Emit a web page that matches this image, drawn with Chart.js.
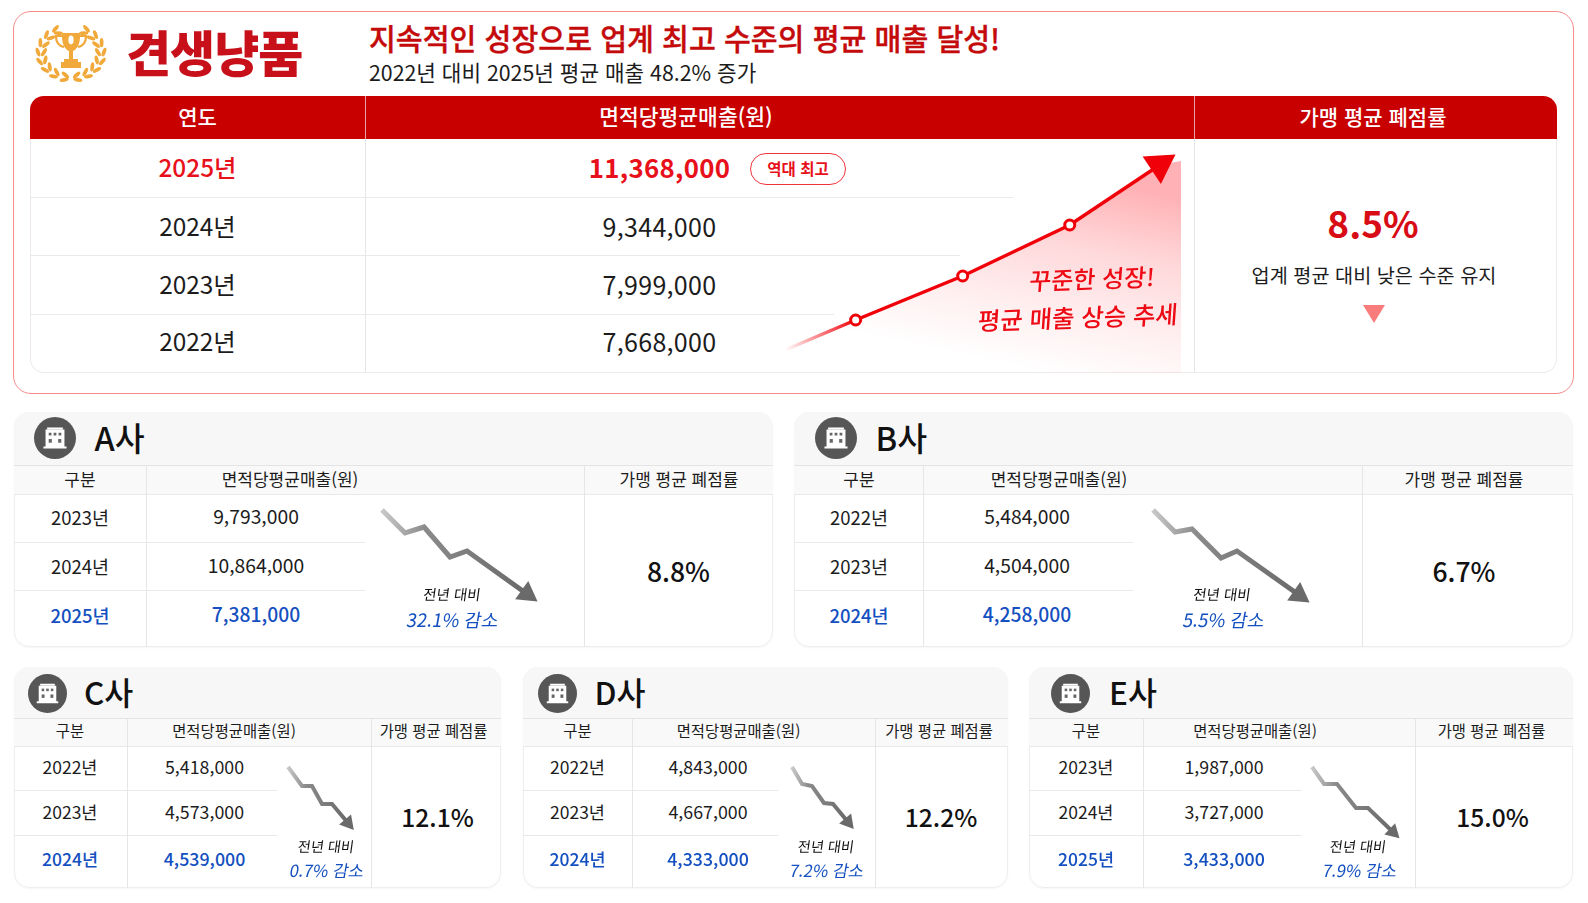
<!DOCTYPE html>
<html lang="ko">
<head>
<meta charset="utf-8">
<title>견생냥품</title>
<script src="https://cdn.jsdelivr.net/npm/chart.js@4/dist/chart.umd.min.js"></script>
<style>
  html, body { margin: 0; padding: 0; background: #fff; }
  body { width: 1588px; height: 903px; overflow: hidden; position: relative;
         font-family: "Noto Sans CJK KR", "Noto Sans", sans-serif; color: #1c1c1c; }
  .t { position: absolute; white-space: nowrap; transform: translate(-50%, -50%); line-height: 1; }
  .l { position: absolute; white-space: nowrap; transform: translateY(-50%); line-height: 1; }
  .box { position: absolute; box-sizing: border-box; }
  .hl { position: absolute; height: 1px; background: #e9e9e9; }
  .vl { position: absolute; width: 1px; background: #e6e6e6; }
  canvas { position: absolute; }
</style>
</head>
<body>
<script>
// main table
const topYears = ["2025년", "2024년", "2023년", "2022년"];
const topSales = ["11,368,000", "9,344,000", "7,999,000", "7,668,000"];
const topRate = "8.5%";

// red growth line (year, height above the table bottom)
const growthX = [2021.34, 2022, 2023, 2024, 2024.84];
const growthY = [23, 53, 97, 148, 208];
const growthFillX = [2021.34, 2022, 2023, 2024, 2024.84, 2025.04];
const growthFillY = [23, 53, 97, 148, 208, 212];

// companies
const nameA = "A사", yearsA = ["2023년", "2024년", "2025년"], salesA = ["9,793,000", "10,864,000", "7,381,000"], rateA = "8.8%", dropA = "32.1% 감소";
const nameB = "B사", yearsB = ["2022년", "2023년", "2024년"], salesB = ["5,484,000", "4,504,000", "4,258,000"], rateB = "6.7%", dropB = "5.5% 감소";
const nameC = "C사", yearsC = ["2022년", "2023년", "2024년"], salesC = ["5,418,000", "4,573,000", "4,539,000"], rateC = "12.1%", dropC = "0.7% 감소";
const nameD = "D사", yearsD = ["2022년", "2023년", "2024년"], salesD = ["4,843,000", "4,667,000", "4,333,000"], rateD = "12.2%", dropD = "7.2% 감소";
const nameE = "E사", yearsE = ["2023년", "2024년", "2025년"], salesE = ["1,987,000", "3,727,000", "3,433,000"], rateE = "15.0%", dropE = "7.9% 감소";

// gray decline arrows
const arrowAX = [12, 35, 54, 80, 97, 157], arrowAY = [105, 82, 88, 58, 64, 21];
const arrowBX = [6, 28, 45, 74, 90, 152], arrowBY = [105, 83, 86, 57, 64, 20];
const arrowCX = [6, 20, 30, 40, 50, 66], arrowCY = [88, 69, 69, 51, 51, 32];
const arrowDX = [7, 17, 27, 39, 48, 63], arrowDY = [88, 71, 69, 52, 51, 33];
const arrowEX = [7, 19, 32, 51, 63, 88], arrowEY = [88, 71, 71, 47, 47, 23];

const body = document.body;
function el(cls, css, text) {
  const d = document.createElement("div");
  d.className = cls;
  d.style.cssText = css;
  if (text !== undefined) d.textContent = text;
  body.appendChild(d);
  return d;
}
// -1.5: the CJK face sits low in its line box
const txt = (s, x, y, size, css = "") => el("t", `left:${x}px;top:${y - 1.5}px;font-size:${size}px;${css}`, s);
const hline = (x1, x2, y, c = "#e9e9e9") => el("hl", `left:${x1}px;width:${x2 - x1}px;top:${y}px;background:${c}`);
const vline = (x, y1, y2, c = "#e6e6e6") => el("vl", `left:${x}px;top:${y1}px;height:${y2 - y1}px;background:${c}`);

// top panel
el("box", "left:13px;top:11px;width:1561px;height:383px;border:1px solid #f88a8a;border-radius:18px");
el("box", "left:30px;top:96px;width:1527px;height:277px;border:1px solid #f0eaea;border-top:none;border-radius:14px");
el("box", "left:30px;top:96px;width:1527px;height:43px;background:#c80000;border-radius:14px 14px 0 0");
vline(365, 96, 139, "#e8a0a0"); vline(1194, 96, 139, "#e8a0a0");
vline(365, 139, 373); vline(1194, 139, 373);

// trophy
(function () {
  let leaves = "";
  const leaf = (x, y, rot) => `<ellipse cx="${x}" cy="${y}" rx="1.9" ry="4.6" fill="#f0a93a" transform="rotate(${rot} ${x} ${y})"/>`;
  for (let a = 118; a <= 258; a += 20) {
    const r = (a * Math.PI) / 180;
    const ox = 35 + 33 * Math.cos(r), oy = 29 - 27.5 * Math.sin(r);
    const ix = 35 + 27 * Math.cos(r), iy = 29 - 22.5 * Math.sin(r);
    const rot = 180 - a;
    leaves += leaf(ox, oy, rot - 22) + leaf(ix, iy, rot + 30);
    leaves += leaf(70 - ox, oy, -rot + 22) + leaf(70 - ix, iy, -rot - 30);
  }
  const d = el("box", "left:36px;top:24px;width:70px;height:58px");
  d.innerHTML = `<svg width="70" height="58" viewBox="0 0 70 58" style="overflow:visible">${leaves}
    <path d="M26 9h18v4c0 8-4 13-7 14v8h5v3h3v6H25v-6h3v-3h5v-8c-3-1-7-6-7-14z" fill="#f0a93a"/>
    <ellipse cx="35" cy="16" rx="2.6" ry="4.4" fill="#fff"/>
    <path d="M26 12h-6c0 7 3 10 8 11M44 12h6c0 7-3 10-8 11" fill="none" stroke="#f0a93a" stroke-width="2.2"/></svg>`;
})();
el("l", "left:126px;top:50px;font-size:49px;font-weight:900;color:#c8101a;letter-spacing:-1px", "견생냥품");
el("l", "left:369px;top:37.5px;font-size:29.2px;font-weight:500;-webkit-text-stroke:.35px #c40a0a;color:#c40a0a", "지속적인 성장으로 업계 최고 수준의 평균 매출 달성!");
el("l", "left:369px;top:72px;font-size:21.3px", "2022년 대비 2025년 평균 매출 48.2% 증가");
txt("연도", 197.5, 117.5, 21, "color:#fff;font-weight:500");
txt("면적당평균매출(원)", 686, 117.5, 21.5, "color:#fff;font-weight:500");
txt("가맹 평균 폐점률", 1373, 117.5, 21, "color:#fff;font-weight:500");

const topRowY = [168.5, 227, 285, 342.5];
const topLineEnd = [1013, 960, 834];
[197, 255, 314].forEach((y, i) => hline(30, topLineEnd[i], y));
topYears.forEach((s, i) => {
  const first = i === 0;
  txt(s, 197.5, topRowY[i], 24.4, first ? "color:#e8101a;font-weight:500" : "");
  txt(topSales[i], 659.5, topRowY[i], first ? 25.8 : 25, first ? "color:#e8101a;font-weight:700;letter-spacing:.3px" : "letter-spacing:.3px");
});
el("box", "left:750px;top:153px;width:96px;height:32px;border:1.5px solid #f0343c;border-radius:16px");
txt("역대 최고", 798, 170, 15.5, "color:#e8101a;font-weight:700");
txt(topRate, 1373, 223.5, 37, "color:#d80c14;font-weight:700");
txt("업계 평균 대비 낮은 수준 유지", 1374, 276, 19.7);
el("box", "left:1363px;top:305px;width:0;height:0;border-left:11px solid transparent;border-right:11px solid transparent;border-top:18px solid #f87c7c");

function addCanvas(left, top, w, h) {
  const c = document.createElement("canvas");
  c.width = w; c.height = h;
  c.style.cssText = `left:${left}px;top:${top}px;width:${w}px;height:${h}px`;
  body.appendChild(c);
  return c;
}
const zip = (xs, ys) => xs.map((x, i) => ({ x, y: ys[i] }));
const hiddenScales = (xmin, xmax, ymin, ymax) => ({
  x: { type: "linear", display: false, min: xmin, max: xmax },
  y: { type: "linear", display: false, min: ymin, max: ymax },
});
const quietPlugins = { legend: { display: false }, tooltip: { enabled: false }, title: { display: false } };

// rotation of the arrow head, from the last segment of a line in screen space
function headRotation(xs, ys, sx = 1) {
  const n = xs.length - 1;
  const dx = (xs[n] - xs[n - 1]) * sx, dy = ys[n] - ys[n - 1];
  return (Math.atan2(dx, dy) * 180) / Math.PI;
}

// big growth chart
new Chart(addCanvas(770, 139, 425, 234), {
  type: "scatter",
  data: {
    datasets: [
      {
        data: zip(growthX, growthY),
        showLine: true,
        clip: false,
        borderWidth: 3.5,
        borderColor: (c) => {
          const { chart } = c;
          if (!chart.chartArea) return "#f00008";
          const sx = chart.scales.x;
          const g = chart.ctx.createLinearGradient(sx.getPixelForValue(growthX[0]), 0, sx.getPixelForValue(growthX[1]), 0);
          g.addColorStop(0, "rgba(240,0,8,0)");
          g.addColorStop(1, "#f00008");
          return g;
        },
        pointStyle: ["circle", "circle", "circle", "circle", "triangle"],
        pointRadius: [0, 5, 5, 5, 19],
        pointBorderWidth: [0, 3, 3, 3, 0],
        pointBorderColor: "#f00008",
        pointBackgroundColor: ["#fff", "#fff", "#fff", "#fff", "#f00008"],
        pointRotation: [0, 0, 0, 0, headRotation(growthX, growthY, 107)],
      },
      {
        data: zip(growthFillX, growthFillY),
        showLine: true,
        clip: false,
        borderWidth: 0,
        borderColor: "rgba(0,0,0,0)",
        pointRadius: 0,
        fill: "origin",
        backgroundColor: (c) => {
          const { chart } = c;
          if (!chart.chartArea) return "rgba(255,60,60,.2)";
          const a = chart.chartArea;
          const g = chart.ctx.createLinearGradient(a.left + 230, a.bottom - 10, a.left + 270, a.top + 30);
          g.addColorStop(0, "rgba(255,50,60,0)");
          g.addColorStop(0.3, "rgba(255,50,60,.08)");
          g.addColorStop(0.65, "rgba(255,50,60,.19)");
          g.addColorStop(1, "rgba(255,40,50,.36)");
          return g;
        },
      },
    ],
  },
  options: {
    responsive: false,
    animation: false,
    layout: { padding: 0, autoPadding: false },
    plugins: quietPlugins,
    scales: hiddenScales(2021.2, 2025.17, 0, 234),
  },
});
el("t", "left:1092px;top:278px;font-size:24px;font-weight:500;color:#ee0a14;transform:translate(-50%,-50%) rotate(-2deg) skewX(-6deg)", "꾸준한 성장!");
el("t", "left:1078px;top:316.5px;font-size:24.4px;font-weight:500;color:#ee0a14;transform:translate(-50%,-50%) rotate(-2deg) skewX(-6deg)", "평균 매출 상승 추세");

function buildingIcon(cx, cy, r) {
  const d = el("box", `left:${cx - r}px;top:${cy - r}px;width:${2 * r}px;height:${2 * r}px;border-radius:50%;background:#565656`);
  d.innerHTML = `<svg width="${2 * r}" height="${2 * r}" viewBox="0 0 40 40">
    <path d="M11 12h18v16h2v2H9v-2h2z" fill="#fff"/><rect x="12.5" y="10" width="15" height="2" fill="#fff"/>
    <g fill="#666"><rect x="14" y="15" width="2.6" height="2.6"/><rect x="18.7" y="15" width="2.6" height="2.6"/><rect x="23.4" y="15" width="2.6" height="2.6"/>
    <rect x="14" y="21" width="3" height="3.5"/><rect x="23" y="21" width="3" height="3.5"/></g></svg>`;
}

// one company card; g is the geometry, the rest is the data
function card(g, name, years, sales, rate, drop, ax, ay) {
  const big = g.big;
  el("box", `left:${g.x1}px;top:${g.top}px;width:${g.x2 - g.x1}px;height:${g.bottom - g.top}px;border:1px solid #eeeeee;border-radius:15px;box-shadow:0 1px 2px rgba(0,0,0,.04)`);
  el("box", `left:${g.x1}px;top:${g.top}px;width:${g.x2 - g.x1}px;height:${g.head - g.top}px;background:#f7f7f7;border-radius:15px 15px 0 0`);
  el("box", `left:${g.x1}px;top:${g.head}px;width:${g.x2 - g.x1}px;height:${g.rows - g.head}px;background:#f9f9f9`);
  hline(g.x1, g.x2, g.head, "#e4e4e4");
  hline(g.x1, g.x2, g.rows, "#e9e9e9");
  vline(g.d1, g.head, g.bottom);
  vline(g.d2, g.head, g.bottom);
  g.lines.forEach((y) => hline(g.x1, g.lineEnd, y));
  buildingIcon(g.iconX, g.iconY, g.iconR);
  el("l", `left:${g.titleX}px;top:${g.iconY - 1.5}px;font-size:${big ? 32.5 : 31.5}px;font-weight:500;color:#111`, name);
  const hy = (g.head + g.rows) / 2;
  const hs = big ? 17 : 15.4;
  txt("구분", g.cYear, hy, hs);
  txt("면적당평균매출(원)", g.cHead, hy, hs);
  txt("가맹 평균 폐점률", g.cRateHead, hy, hs);
  years.forEach((y, i) => {
    const color = i === 2 ? "color:#1450c0;font-weight:500" : "";
    txt(y, g.cYear, g.rowY[i], big ? 18.5 : 17.5, color);
    txt(sales[i], g.cSale, g.rowY[i], big ? 19.3 : 17.8, color);
  });
  txt(rate, g.cRate, g.rateY, big ? 26.5 : 24.6, "font-weight:500;color:#111");

  new Chart(addCanvas(g.ax, g.ay, g.aw, g.ah), {
    type: "scatter",
    data: {
      datasets: [{
        data: zip(ax, ay),
        showLine: true,
        clip: false,
        borderWidth: big ? 5 : 4,
        borderJoinStyle: "miter",
        borderColor: (c) => {
          const { chart } = c;
          if (!chart.chartArea) return "#777";
          const sx = chart.scales.x;
          const gr = chart.ctx.createLinearGradient(sx.getPixelForValue(ax[0]), 0, sx.getPixelForValue(ax[ax.length - 1]), 0);
          gr.addColorStop(0, "#c8c8c8");
          gr.addColorStop(0.3, "#8a8a8a");
          gr.addColorStop(1, "#6a6a6a");
          return gr;
        },
        pointStyle: "triangle",
        pointRadius: ax.map((_, i) => (i === ax.length - 1 ? (big ? 13 : 9) : 0)),
        pointBorderWidth: 0,
        pointBackgroundColor: "#6a6a6a",
        pointRotation: headRotation(ax, ay),
      }],
    },
    options: {
      responsive: false,
      animation: false,
      layout: { padding: 0, autoPadding: false },
      plugins: quietPlugins,
      scales: hiddenScales(0, g.aw, 0, g.ah),
    },
  });
  el("t", `left:${g.noteX}px;top:${g.noteY - 1}px;font-size:${big ? 14.5 : 14.2}px;color:#111;transform:translate(-50%,-50%) skewX(-8deg)`, "전년 대비");
  el("t", `left:${g.dropX}px;top:${g.dropY - 1}px;font-size:${big ? 18.4 : 16.8}px;color:#1450c0;transform:translate(-50%,-50%) skewX(-10deg)`, drop);
}

const bigRows = { big: true, top: 412, bottom: 647, head: 465, rows: 494, lines: [542, 590], rowY: [518.5, 567, 616.5], iconY: 438, iconR: 21, rateY: 572.5 };
const smallRows = { big: false, top: 667, bottom: 888, head: 718, rows: 746, lines: [790, 835], rowY: [768, 813.5, 860.5], iconY: 693, iconR: 19.5, rateY: 817 };

card({ ...bigRows, x1: 13.5, x2: 773, d1: 145.5, d2: 584, lineEnd: 365, iconX: 55, titleX: 94.5, cYear: 80, cHead: 290, cSale: 256, cRateHead: 679, cRate: 678.5,
  ax: 370, ay: 500, aw: 180, ah: 115, noteX: 452, noteY: 595, dropX: 453, dropY: 620 }, nameA, yearsA, salesA, rateA, dropA, arrowAX, arrowAY);
card({ ...bigRows, x1: 794, x2: 1572.5, d1: 922.5, d2: 1361.5, lineEnd: 1133, iconX: 836, titleX: 875.5, cYear: 859, cHead: 1059, cSale: 1027, cRateHead: 1464, cRate: 1464,
  ax: 1147, ay: 500, aw: 180, ah: 115, noteX: 1222, noteY: 595, dropX: 1224, dropY: 620 }, nameB, yearsB, salesB, rateB, dropB, arrowBX, arrowBY);
card({ ...smallRows, x1: 13.5, x2: 500.5, d1: 126.5, d2: 371, lineEnd: 276.5, iconX: 47.5, titleX: 84, cYear: 70, cHead: 234, cSale: 204.5, cRateHead: 433.5, cRate: 437.5,
  ax: 282, ay: 760, aw: 85, ah: 95, noteX: 325.5, noteY: 847, dropX: 327, dropY: 871 }, nameC, yearsC, salesC, rateC, dropC, arrowCX, arrowCY);
card({ ...smallRows, x1: 522.5, x2: 1008, d1: 632, d2: 874.5, lineEnd: 778, iconX: 557, titleX: 594.5, cYear: 577.5, cHead: 738.5, cSale: 708, cRateHead: 939, cRate: 941,
  ax: 785, ay: 760, aw: 85, ah: 95, noteX: 825.5, noteY: 847, dropX: 827, dropY: 870.5 }, nameD, yearsD, salesD, rateD, dropD, arrowDX, arrowDY);
card({ ...smallRows, x1: 1029, x2: 1572.5, d1: 1142.5, d2: 1415, lineEnd: 1302, iconX: 1070, titleX: 1109, cYear: 1086, cHead: 1255, cSale: 1224, cRateHead: 1491.5, cRate: 1492.5,
  ax: 1305, ay: 760, aw: 105, ah: 95, noteX: 1358, noteY: 847, dropX: 1360, dropY: 871 }, nameE, yearsE, salesE, rateE, dropE, arrowEX, arrowEY);
</script>
</body>
</html>
